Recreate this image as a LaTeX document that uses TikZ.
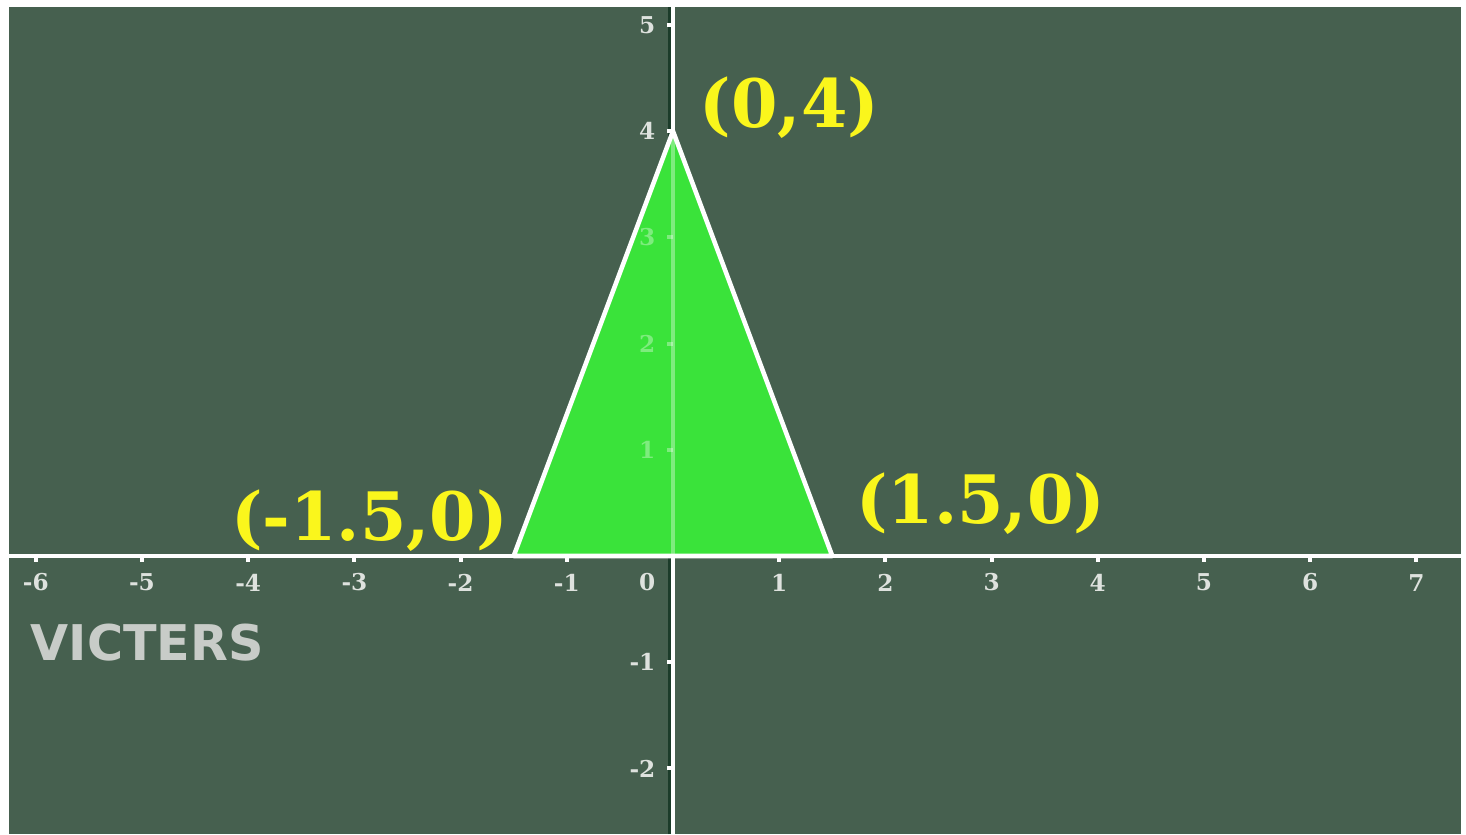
\documentclass[tikz,border=0pt]{standalone}
\usepackage{fontspec}
\setmainfont{DejaVu Serif}
\newfontfamily\logofont{DejaVu Sans}
\usepackage{tikz}
\usetikzlibrary{positioning}
\usepackage{xcolor}
\definecolor{boardgreen}{RGB}{70, 96, 79}
\definecolor{shapegreen}{RGB}{58, 227, 58}
\definecolor{ptyellow}{RGB}{250, 246, 28}
\definecolor{ticktext}{RGB}{222, 226, 222}
\definecolor{logogray}{RGB}{200, 204, 200}
\definecolor{axisshade}{RGB}{28, 60, 42}

\tikzset{
  axisline/.style={white, line width=1.1pt},
  tickmark/.style={white, line width=1.1pt},
  ticklabel/.style={ticktext, font=\fontsize{6.6}{7.5}\selectfont\bfseries, inner sep=0pt},
  pointlabel/.style={ptyellow, font=\fontsize{19}{21}\selectfont\bfseries, inner sep=0pt},
}

\begin{document}
\begin{tikzpicture}[x=1.062cm, y=1.062cm]
                \useasboundingbox (-6.73cm,-2.78cm) rectangle (7.93cm,5.56cm);
                % --- Board ---
                \fill[boardgreen] (-6.64cm,-2.78cm) rectangle (7.88cm,5.49cm);

                % --- Axes ---
                \coordinate (xl) at (-6.64cm,0);
                \coordinate (xr) at (7.88cm,0);
                \coordinate (yb) at (0,-2.78cm);
                \coordinate (yt) at (0,5.49cm);
                \coordinate (o) at (0,0);
                \draw[axisshade, line width=0.6pt] ([xshift=-0.035cm]yb) -- ([xshift=-0.035cm]yt);
                \draw[axisline] (xl) -- (xr);
                \draw[axisline] (yb) -- (yt);

                % ticks and numbers
                \foreach \x in {-6,...,-1,1,2,...,7} {
                    \draw[tickmark] (\x,0) -- (\x,-0.06);
                    \node[ticklabel] (xnum\x) at (\x,-0.25) {\x};
                }
                \node[ticklabel, anchor=east] (xnum0) at (-0.17cm,-0.25) {0};
                \foreach \y in {-2,-1,4,5} {
                    \draw[tickmark] (0,\y) -- (-0.06,\y);
                    \node[ticklabel, anchor=east] (ynum\y) at (-0.17cm,\y) {\y};
                }

                % --- Triangle ---
                \coordinate (left) at (-1.5,0);
                \coordinate (right) at (1.5,0);
                \coordinate (top) at (0,4);
                \fill[shapegreen] (left) -- (top) -- (right) -- cycle;
                % axis seen through the fill
                \draw[axisline, opacity=0.35] (o) -- (top);
                \foreach \y in {1,2,3} {
                    \draw[tickmark, opacity=0.35] (0,\y) -- (-0.06,\y);
                    \node[ticklabel, white, opacity=0.35, anchor=east] (ynum\y) at (-0.17cm,\y) {\y};
                }
                \draw[white, line width=1.3pt, line join=round] (left) -- (top) -- (right) -- cycle;

                % --- Vertex labels ---
                \node[pointlabel, anchor=south west, xshift=0.26cm, yshift=-0.08cm] (toplabel) at (top) {(0,4)};
                \node[pointlabel, anchor=south east, xshift=-0.05cm, yshift=0.04cm] (leftlabel) at (left) {(-1.5,0)};
                \node[pointlabel, anchor=south west, xshift=0.23cm, yshift=0.21cm] (rightlabel) at (right) {(1.5,0)};

                % --- Logo ---
                \node[logogray, font=\logofont\fontsize{14}{16}\selectfont\bfseries, anchor=west, inner sep=0pt] (logo) at (-6.43cm,-0.87cm) {VICTERS};
\end{tikzpicture}
\end{document}
